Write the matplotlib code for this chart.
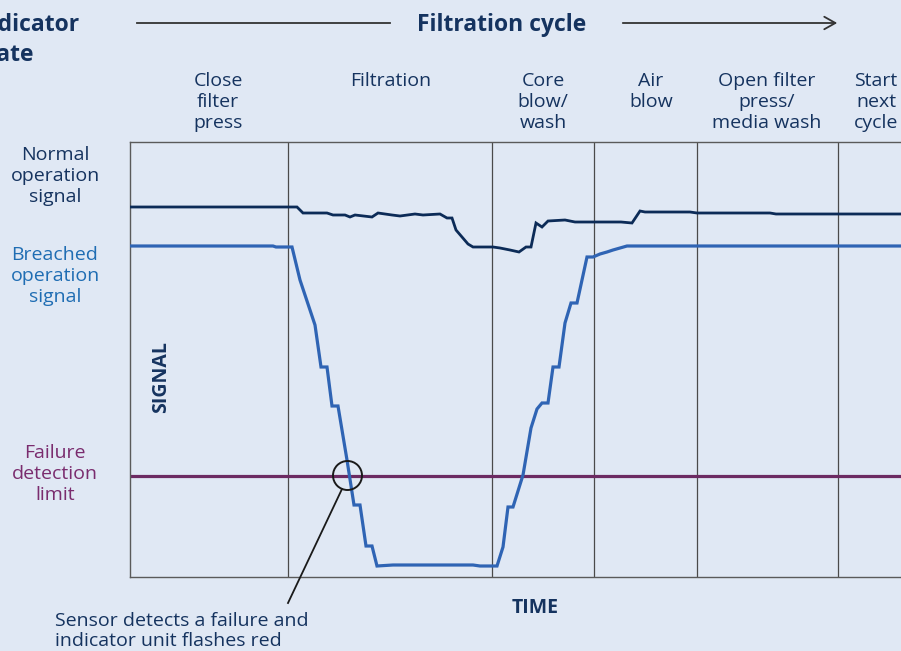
import matplotlib
matplotlib.use("Agg")
import matplotlib.pyplot as plt
from matplotlib.patches import Circle

plt.rcParams['font.family'] = ['Open Sans', 'DejaVu Sans']

# ---- data (time units, signal units) ----
normal_t = [0, 167, 173, 197, 203, 215, 220, 225, 242, 248, 262, 270, 285, 293, 310, 317, 322,
            326, 338, 343, 363, 370, 380, 389, 396, 401, 406, 412, 418, 435, 445, 491, 502,
            510, 515, 560, 567, 640, 646, 780]
normal_s = [370, 370, 364, 364, 362, 362, 360, 362, 360, 364, 362, 361, 363, 362, 363, 359, 359,
            347, 333, 330, 330, 329, 327, 325, 330, 330, 354, 350, 356, 357, 355, 355, 354,
            366, 365, 365, 364, 364, 363, 363]

breach_t = [0, 143, 146, 162, 170, 185, 191, 197, 202, 208, 217, 224, 230, 236, 242, 247, 263,
            343, 350, 367, 373, 378, 383, 393, 401, 407, 412, 418, 423, 429, 435, 441, 447,
            457, 463, 470, 477, 483, 497, 780]
breach_s = [331, 331, 330, 330, 297, 252, 210, 210, 171, 171, 117, 72, 72, 31, 31, 11, 12,
            12, 11, 11, 30, 70, 70, 102, 149, 168, 174, 174, 210, 210, 254, 274, 274,
            320, 320, 323, 325, 327, 331, 331]

failure_limit = 101
phase_bounds = [158, 362, 464, 567, 708]
phase_labels = ["Close\nfilter\npress", "Filtration", "Core\nblow/\nwash", "Air\nblow",
                "Open filter\npress/\nmedia wash", "Start\nnext\ncycle"]
phase_label_x = [218, 391, 543, 651, 767, 876]
detect_point = (217.5, 101.5)

BG = '#e0e8f4'
NAVY = '#0c2b57'
BLUE = '#2f64b4'
PURPLE = '#6c2a62'
TXT_NAVY = '#15335f'
TXT_BLUE = '#1f6db3'
TXT_PURPLE = '#7a2c6e'

W, H = 901, 651
fig = plt.figure(figsize=(W / 100, H / 100), dpi=100, facecolor=BG)

# main plot box: left 130px, top 142px, bottom 577px, right beyond the figure
ax = fig.add_axes([130 / W, (H - 577) / H, 780 / W, 435 / H])
ax.set_facecolor(BG)
ax.set_xlim(0, 780)
ax.set_ylim(0, 435)
ax.set_xticks([])
ax.set_yticks([])
for sp in ax.spines.values():
    sp.set_color('#5a5a5a')
    sp.set_linewidth(1.0)

for b in phase_bounds:
    ax.axvline(b, color='#4a4a4a', lw=0.9, zorder=1)

ax.axhline(failure_limit, color=PURPLE, lw=2.3, zorder=2)
ax.plot(normal_t, normal_s, color=NAVY, lw=2.0, zorder=3, solid_joinstyle='miter')
ax.plot(breach_t, breach_s, color=BLUE, lw=2.3, zorder=4, solid_joinstyle='miter')

ax.add_patch(Circle(detect_point, 14.5, fill=False, edgecolor='#1a1a1a', lw=1.4, zorder=5, clip_on=False))
ax.plot([212, 158], [88, -26], color='#1a1a1a', lw=1.3, zorder=5, clip_on=False)

ax.text(31, 200, "SIGNAL", rotation=90, ha='center', va='center', fontsize=14,
        fontweight='bold', color=TXT_NAVY)
ax.text(405, -31, "TIME", ha='center', va='center', fontsize=14,
        fontweight='bold', color=TXT_NAVY, clip_on=False)

# overlay in pixel coordinates for annotation texts
ov = fig.add_axes([0, 0, 1, 1], facecolor='none')
ov.set_xlim(0, W)
ov.set_ylim(H, 0)
ov.axis('off')

ov.text(-25, 40, "Indicator\nstate", ha='left', va='center', fontsize=16.5, fontweight='bold',
        color=TXT_NAVY, linespacing=1.38)
ov.text(502, 25, "Filtration cycle", ha='center', va='center', fontsize=16.5, fontweight='bold',
        color=TXT_NAVY)
ov.plot([137, 390], [23, 23], color='#333333', lw=1.3)
ov.annotate("", xy=(840, 23), xytext=(620, 23),
            arrowprops=dict(arrowstyle='->,head_length=0.8,head_width=0.45', color='#333333', lw=1.3))

for lbl, x in zip(phase_labels, phase_label_x):
    ov.text(x, 72, lbl, ha='center', va='top', fontsize=14, color=TXT_NAVY, linespacing=1.23)

ov.text(55, 176, "Normal\noperation\nsignal", ha='center', va='center', fontsize=14,
        color=TXT_NAVY, linespacing=1.2)
ov.text(55, 276, "Breached\noperation\nsignal", ha='center', va='center', fontsize=14,
        color=TXT_BLUE, linespacing=1.2)
ov.text(55, 474, "Failure\ndetection\nlimit", ha='center', va='center', fontsize=14,
        color=TXT_PURPLE, linespacing=1.2)

ov.text(55, 631, "Sensor detects a failure and\nindicator unit flashes red", ha='left', va='center',
        fontsize=14, color=TXT_NAVY, linespacing=1.1)

fig.savefig("out.png", dpi=100, facecolor=BG)
